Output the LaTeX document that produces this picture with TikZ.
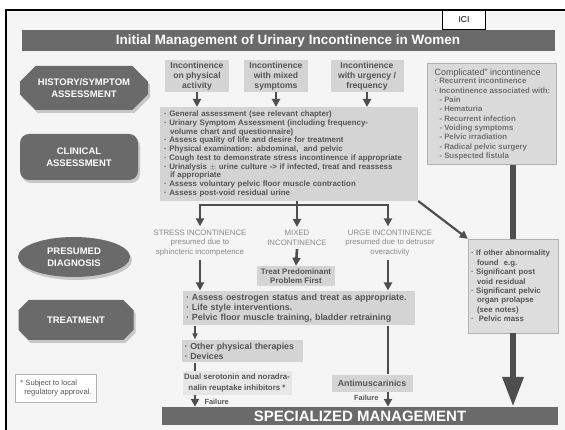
\documentclass[tikz,border=0pt]{standalone}
\usepackage{fontspec}
\setmainfont{Liberation Sans}
\usepackage{tikz}
\usetikzlibrary{positioning}
\usetikzlibrary{shapes.misc,shapes.geometric,shadows,arrows.meta}

\definecolor{barGray}{HTML}{6A6A6A}
\definecolor{boxGray}{HTML}{D4D4D4}
\definecolor{txtGray}{HTML}{555555}
\definecolor{capGray}{HTML}{8A8A8A}
\definecolor{listGray}{HTML}{707070}
\definecolor{arrGray}{HTML}{4E4E4E}
\definecolor{paper}{HTML}{F5F5F5}

\newcommand{\fs}[2]{\fontsize{#1}{#2}\selectfont}
\newcommand{\bl}{\textperiodcentered\ }

\tikzset{
    phase/.style={fill=barGray, text=white, align=center,
        font=\bfseries\fs{9.5}{11.5},
        drop shadow={shadow xshift=2pt, shadow yshift=-3pt, fill=black!22, opacity=1}},
    octa/.style={chamfered rectangle, chamfered rectangle angle=45,
        chamfered rectangle xsep=12pt},
    greybox/.style={fill=boxGray, text=txtGray, inner sep=2pt,
        font=\bfseries\fs{8}{9.4}},
    askbox/.style={greybox, align=center, font=\bfseries\fs{8.6}{9.8}},
    caplabel/.style={text=capGray, align=center, font=\fs{7.8}{9.6}},
    flow/.style={draw=arrGray, line width=2.6pt,
        -{Triangle[width=8pt,length=8pt]}},
    thinflow/.style={draw=arrGray, line width=1.4pt,
        -{Triangle[width=5pt,length=6pt]}},
    bigflow/.style={draw=arrGray, line width=6.5pt,
        -{Triangle[width=20pt,length=30pt]}},
    failure/.style={text=txtGray, font=\bfseries\fs{7.4}{8}}
}

\begin{document}
\begin{tikzpicture}[x=1pt, y=-1pt]
    \useasboundingbox (0,0) rectangle (565,430);

    %Frame
    \fill[white] (0,0) rectangle (565,430);
    \fill[paper] (6,10) rectangle (565,430);
    \draw[line width=2pt] (6,430) -- (6,10) -- (565,10);

    \node[draw=black, fill=white, line width=0.8pt, minimum width=43, minimum height=19,
          inner sep=0pt, font=\fs{8.5}{9}] (ici) at (464,20) {ICI};

    \node[fill=barGray, text=white, minimum width=533, minimum height=21, inner sep=0pt,
          font=\bfseries\fs{13.5}{14}] (title) at (288,41)
          {Initial Management of Urinary Incontinence in Women};

    %-------------------------------------------
    %Stages on the left
    \node[phase, octa, minimum width=128, minimum height=44] (history) at (84,88)
          {HISTORY/SYMPTOM\\ASSESSMENT};
    \node[phase, rounded corners=9pt, minimum width=118, minimum height=46] (clinical) at (79,157)
          {CLINICAL\\ASSESSMENT};
    \node[phase, ellipse, minimum width=112, minimum height=40, inner sep=0pt] (diagnosis) at (74,257)
          {PRESUMED\\DIAGNOSIS};
    \node[phase, octa, minimum width=115, minimum height=40] (treatment) at (76,320)
          {TREATMENT};

    \node[draw=black!30, fill=white, minimum width=81, minimum height=28, align=left,
          inner sep=2pt, text=txtGray, font=\fs{7.6}{9.2}] (footnote) at (56,388)
          {* Subject to local\\\hspace*{4pt}regulatory approval.};

    %-------------------------------------------
    %History
    \node[askbox, minimum width=64, minimum height=32] (physical) at (197,76)
          {Incontinence\\on physical\\activity};
    \node[askbox, minimum width=64, minimum height=32] (mixedsym) at (276,76)
          {Incontinence\\with mixed\\symptoms};
    \node[askbox, minimum width=73, minimum height=32] (urgency) at (367,76)
          {Incontinence\\with urgency /\\frequency};

    %Clinical assessment
    \node[greybox, minimum width=258, minimum height=88, text width=250, align=left, inner sep=4pt,
          font=\bfseries\fs{7.9}{8.7}] (assess) at (289,154)
          {\bl General assessment (see relevant chapter)\\
           \bl Urinary Symptom Assessment (including frequency-\\
           \hspace*{6pt}volume chart and questionnaire)\\
           \bl Assess quality of life and desire for treatment\\
           \bl Physical examination: abdominal,\ \ and pelvic\\
           \bl Cough test to demonstrate stress incontinence if appropriate\\
           \bl Urinalysis $\pm$ urine culture -> if infected, treat and reassess\\
           \hspace*{6pt}if appropriate\\
           \bl Assess voluntary pelvic floor muscle contraction\\
           \bl Assess post-void residual urine};

    \node[draw=black!30, fill=boxGray!85, minimum width=129, minimum height=101] (complicated) at (492,114) {};
    \node[anchor=north west, align=left, inner sep=0pt, text=txtGray,
          font=\fs{9}{10}] (comptitle) at ([shift={(7,5)}]complicated.north west)
          {Complicated” incontinence};
    \node[below=1pt of comptitle.south west, anchor=north west, align=left, inner sep=0pt,
          text=listGray, font=\bfseries\fs{7.8}{9.3}] (complist)
          {\bl Recurrent incontinence\\
           \bl Incontinence associated with:\\
           \hspace*{5pt}- Pain\\
           \hspace*{5pt}- Hematuria\\
           \hspace*{5pt}- Recurrent infection\\
           \hspace*{5pt}- Voiding symptoms\\
           \hspace*{5pt}- Pelvic irradiation\\
           \hspace*{5pt}- Radical pelvic surgery\\
           \hspace*{5pt}- Suspected fistula};

    %Presumed diagnosis
    \node[caplabel] (stress) at (200,243)
          {STRESS INCONTINENCE\\presumed due to\\sphincteric incompetence};
    \node[caplabel] (mixed) at (297,238)
          {MIXED\\INCONTINENCE};
    \node[caplabel] (urge) at (390,243)
          {URGE INCONTINENCE\\presumed due to detrusor\\overactivity};

    \coordinate (forkL) at (200,205);
    \coordinate (forkR) at (388,205);

    \node[greybox, minimum width=78, minimum height=20, inner sep=1pt, align=center] (predominant) at (296,276)
          {Treat Predominant\\Problem First};

    \node[draw=black!30, fill=boxGray!80, minimum width=90, minimum height=94,
          text width=84, align=left, inner sep=3pt, text=txtGray,
          font=\bfseries\fs{7.8}{9.4}] (abnormal) at (513,286)
          {\bl If other abnormality\\
           \hspace*{6pt}found\ \ e.g.\\
           \bl Significant post\\
           \hspace*{6pt}void residual\\
           \bl Significant pelvic\\
           \hspace*{6pt}organ prolapse\\
           \hspace*{6pt}(see notes)\\
           \bl\ Pelvic mass};

    %Treatment
    \node[greybox, minimum width=232, minimum height=32, text width=226, align=left, inner sep=3pt,
          font=\bfseries\fs{8.9}{10.2}] (lifestyle) at (299,308)
          {\bl Assess oestrogen status and treat as appropriate.\\
           \bl Life style interventions.\\
           \bl Pelvic floor muscle training, bladder retraining};
    \node[greybox, minimum width=121, minimum height=21, text width=115, align=left, inner sep=3pt,
          font=\bfseries\fs{8.8}{10.2}] (physio) at (242,351)
          {\bl Other physical therapies\\
           \bl Devices};
    \node[greybox, fill=boxGray!55, minimum width=109, minimum height=24, inner sep=1pt,
          align=center, font=\bfseries\fs{7.9}{10.5}] (snri) at (237,383)
          {Dual serotonin and noradra-\\nalin reuptake inhibitors *};
    \node[greybox, minimum width=81, minimum height=17, font=\bfseries\fs{8.8}{9}] (antimus) at (372,383)
          {Antimuscarinics};

    \node[fill=barGray, text=white, minimum width=396, minimum height=18, inner sep=0pt,
          font=\bfseries\fs{15}{15}] (special) at (360,416)
          {SPECIALIZED MANAGEMENT};

    %-------------------------------------------
    %Connectors
    \draw[flow] (physical) -- (assess.north -| physical);
    \draw[flow] (mixedsym) -- (assess.north -| mixedsym);
    \draw[flow] (urgency) -- (assess.north -| urgency);

    \draw[draw=arrGray, line width=2.6pt] (assess.south -| mixed) -- (forkL -| mixed);
    \draw[draw=arrGray, line width=2.6pt, line cap=rect] (forkL) -- (forkR);
    \draw[flow] (forkL) -- (stress.north);
    \draw[flow] (forkL -| mixed) -- (mixed.north);
    \draw[flow] (forkR) -- (urge.north -| forkR);
    \draw[flow] (mixed.south) -- (predominant.north);
    \draw[flow] (stress.south) -- (lifestyle.north -| stress);
    \draw[flow] (urge.south -| forkR) -- (lifestyle.north -| forkR);

    \draw[flow, line width=2.2pt] (assess.south east) -- (abnormal.north west);
    \draw[bigflow, -] (complicated.south -| abnormal) -- (abnormal.north);
    \draw[bigflow] (abnormal.south) -- (special.north -| abnormal);

    \coordinate (lane) at (195,0);
    \draw[thinflow] (lifestyle.south -| lane) -- (physio.north -| lane);
    \draw[draw=arrGray, line width=2pt] (physio.south -| lane) -- (snri.north -| lane);
    \draw[flow, line width=2pt] (snri.south -| lane) -- (special.north -| lane);
    \draw[draw=arrGray, line width=2.6pt] (lifestyle.south -| forkR) -- (antimus.north -| forkR);
    \draw[flow, line width=2pt] (antimus.south -| forkR) -- (special.north -| forkR);

    \node[failure, right = 6pt of snri.south -| lane, anchor=north west] (fail1) {Failure};
    \node[failure, left = 6pt of antimus.south -| forkR, anchor=north east] (fail2) {Failure};

\end{tikzpicture}
\end{document}
